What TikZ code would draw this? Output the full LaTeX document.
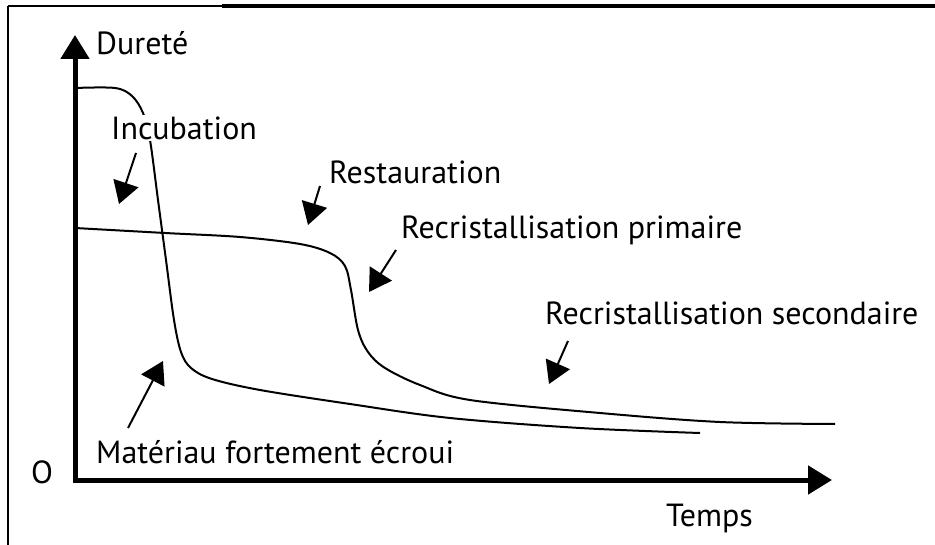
\documentclass[tikz,border=0pt]{standalone}
\usepackage{fontspec}
\setmainfont{PT Sans}
\usepackage{tikz}
\usetikzlibrary{arrows.meta}
\tikzstyle{none}=[inner sep=0pt]
\tikzstyle{label}=[inner sep=1pt,font=\fontsize{32}{36}\selectfont,anchor=west]
\tikzstyle{axis}=[-{Triangle[length=24pt,width=28pt]},line width=5pt]
\tikzstyle{curve}=[line width=2pt,smooth,tension=0.55]
\tikzstyle{pointer}=[-{Triangle[length=22pt,width=26pt]},line width=2pt]
\tikzstyle{frame}=[line width=2pt]
\pgfdeclarelayer{edgelayer}
\pgfdeclarelayer{nodelayer}
\pgfsetlayers{edgelayer,main,nodelayer}
\begin{document}
\begin{tikzpicture}[x=1pt,y=-1pt]
	\useasboundingbox (0,0) rectangle (935,545);
	\begin{pgfonlayer}{nodelayer}
		\node [style=none] (O) at (75, 480) {};
		\node [style=none] (Ytop) at (75, 35) {};
		\node [style=none] (Xend) at (832, 480) {};
		\node [style=label] (durete) at (95, 43) {Dureté};
		\node [style=label] (origin) at (30, 472) {O};
		\node [style=label] (temps) at (665, 518) {Temps};
		\node [style=label, fill=white] (incub) at (110, 128) {Incubation};
		\node [style=label] (resta) at (328, 172) {Restauration};
		\node [style=label] (recp) at (400, 230) {Recristallisation primaire};
		\node [style=label] (recs) at (544, 313) {Recristallisation secondaire};
		\node [style=label] (mater) at (95, 452) {Matériau fortement écroui};
		\node [style=none] (incubA) at (136, 153) {};
		\node [style=none] (incubB) at (119, 204) {};
		\node [style=none] (restaA) at (320, 186) {};
		\node [style=none] (restaB) at (308, 225) {};
		\node [style=none] (recpA) at (396, 250) {};
		\node [style=none] (recpB) at (369, 292) {};
		\node [style=none] (recsA) at (568, 341) {};
		\node [style=none] (recsB) at (549, 384) {};
		\node [style=none] (materA) at (128, 428) {};
		\node [style=none] (materB) at (163, 361) {};
		\node [style=none] (FTL) at (8, 6) {};
		\node [style=none] (FTM) at (222, 6) {};
		\node [style=none] (FTR) at (935, 6) {};
		\node [style=none] (FBL) at (8, 545) {};
	\end{pgfonlayer}
	\begin{pgfonlayer}{edgelayer}
		\draw [style=curve] plot coordinates {(75,88) (115,88) (132,96) (143,113) (150,140) (158,200) (166,260) (174,320) (181,352) (191,368) (212,379) (260,390) (350,404) (450,418) (580,428) (700,433)};
		\draw [style=curve] plot coordinates {(75,228) (165,233) (240,237) (300,244) (330,253) (345,266) (351,290) (358,330) (368,352) (385,368) (420,385) (470,400) (600,413) (720,422) (835,424)};
	\end{pgfonlayer}
	\draw [style=axis] (O.center) to (Ytop.center);
	\draw [style=axis] ([xshift=-2.5pt]O.center) to (Xend.center);
	\draw [style=pointer] (incubA.center) to (incubB.center);
	\draw [style=pointer] (restaA.center) to (restaB.center);
	\draw [style=pointer] (recpA.center) to (recpB.center);
	\draw [style=pointer] (recsA.center) to (recsB.center);
	\draw [style=pointer] (materA.center) to (materB.center);
	\draw [style=frame] (FBL.center) to (FTL.center);
	\draw [style=frame] (FTL.center) to (FTM.center);
	\draw [style=frame, line width=3.5pt] (FTM.center) to (FTR.center);
\end{tikzpicture}
\end{document}
